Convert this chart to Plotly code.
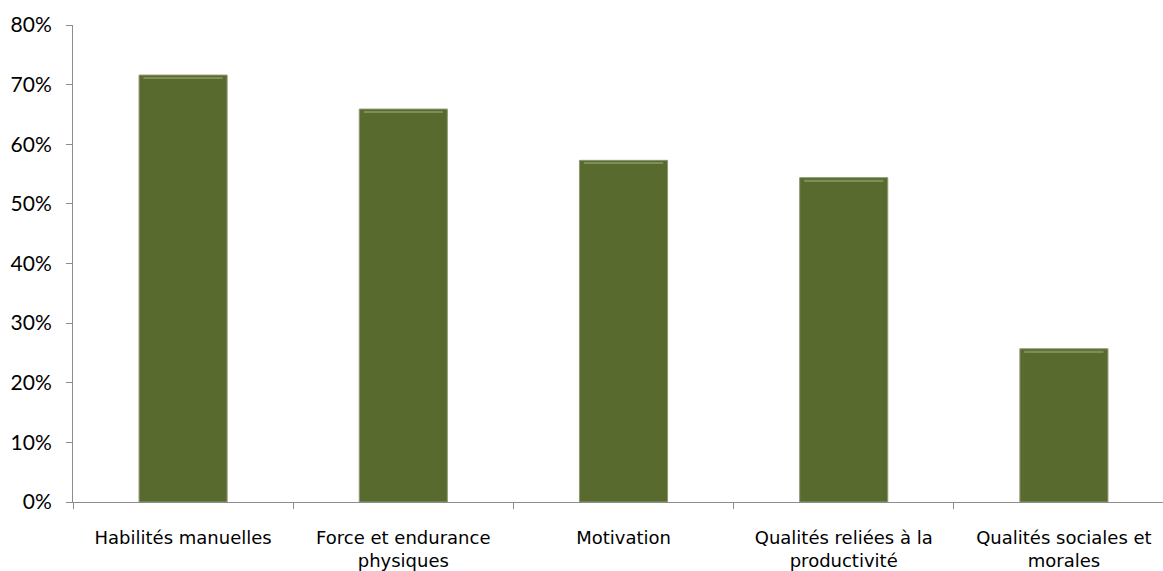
import plotly.graph_objects as go

categories = [
    "Habilités manuelles",
    "Force et endurance<br>physiques",
    "Motivation",
    "Qualités reliées à la<br>productivité",
    "Qualités sociales et<br>morales",
]
values = [0.716, 0.659, 0.573, 0.544, 0.257]
y_ticks = [0.0, 0.1, 0.2, 0.3, 0.4, 0.5, 0.6, 0.7, 0.8]
y_tick_text = ["0%", "10%", "20%", "30%", "40%", "50%", "60%", "70%", "80%"]

BAR_FILL = "#596A2F"
BAR_EDGE = "#8C9877"
HIGHLIGHT = "#7E8F55"

fig = go.Figure()

# main bars
fig.add_trace(go.Bar(
    x=categories,
    y=values,
    width=0.4,
    marker=dict(color=BAR_FILL, line=dict(color=BAR_EDGE, width=1)),
    hoverinfo="x+y",
    showlegend=False,
))

# thin lighter band just under each bar top, for the bevel look
fig.add_trace(go.Bar(
    x=categories,
    y=[0.0025] * len(values),
    base=[v - 0.006 for v in values],
    width=0.36,
    marker=dict(color=HIGHLIGHT, line=dict(width=0)),
    hoverinfo="skip",
    showlegend=False,
))

fig.update_layout(
    width=1163,
    height=571,
    margin=dict(l=73, r=0, t=25, b=69),
    paper_bgcolor="white",
    plot_bgcolor="white",
    barmode="overlay",
    font=dict(family="DejaVu Sans", color="#000000"),
    xaxis=dict(
        type="category",
        range=[-0.5, 4.45],
        showline=True,
        linecolor="#8C8C8C",
        linewidth=1,
        ticks="outside",
        tickson="boundaries",
        ticklen=6,
        tickcolor="#8C8C8C",
        ticklabelstandoff=19,
        tickfont=dict(family="DejaVu Sans", size=18, color="#000000"),
        showgrid=False,
        zeroline=False,
    ),
    yaxis=dict(
        range=[0, 0.8],
        tickvals=y_ticks,
        ticktext=y_tick_text,
        showline=True,
        linecolor="#8C8C8C",
        linewidth=1,
        ticks="outside",
        ticklen=6,
        tickcolor="#8C8C8C",
        ticklabelstandoff=10,
        tickfont=dict(family="Lato", size=21, color="#000000"),
        showgrid=False,
        zeroline=False,
    ),
)

fig.write_html("out.html")
